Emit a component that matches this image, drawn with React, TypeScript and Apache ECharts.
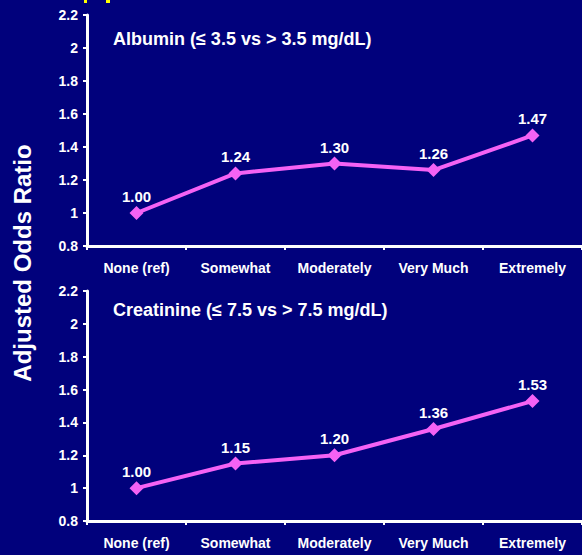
import React, { useEffect, useRef } from "react";
import * as echarts from "echarts";

const categories = ["None (ref)", "Somewhat", "Moderately", "Very Much", "Extremely"];
const albuminValues = [1.0, 1.24, 1.3, 1.26, 1.47];
const creatinineValues = [1.0, 1.15, 1.2, 1.36, 1.53];
const panelTitles = ["Albumin (≤ 3.5 vs > 3.5 mg/dL)", "Creatinine (≤ 7.5 vs > 7.5 mg/dL)"];
const yAxisTitle = "Adjusted Odds Ratio";
const yMin = 0.8;
const yMax = 2.2;
const yStep = 0.2;

const BG = "#01017c";
const LINE = "#f462f4";
const WHITE = "#ffffff";
const FONT = "Arial, 'Liberation Sans', sans-serif";

export default function App() {
  const ref = useRef<HTMLDivElement>(null);
  useEffect(() => {
    if (!ref.current) return;
    const chart = echarts.init(ref.current, undefined, { renderer: "svg" });
    const grids = [
      { left: 87, top: 15, width: 500, height: 231 },
      { left: 87, top: 291, width: 500, height: 230 },
    ];
    const mkX = (i: number) => ({
      type: "category",
      gridIndex: i,
      data: categories,
      boundaryGap: true,
      axisLine: { lineStyle: { color: WHITE, width: 3 } },
      axisTick: { show: true, length: 4, lineStyle: { color: WHITE, width: 2 } },
      axisLabel: { color: WHITE, fontFamily: FONT, fontWeight: "bold", fontSize: 14, margin: 15 },
    });
    const mkY = (i: number) => ({
      type: "value",
      gridIndex: i,
      min: yMin,
      max: yMax,
      interval: yStep,
      splitLine: { show: false },
      axisLine: { show: true, lineStyle: { color: WHITE, width: 3 } },
      axisTick: { show: true, length: 4, lineStyle: { color: WHITE, width: 2 } },
      axisLabel: {
        color: WHITE,
        fontFamily: FONT,
        fontWeight: "bold",
        fontSize: 14,
        margin: 9,
        formatter: (v: number) => String(+v.toFixed(1)),
      },
    });
    const mkSeries = (i: number, data: number[]) => ({
      type: "line",
      xAxisIndex: i,
      yAxisIndex: i,
      data,
      symbol: "diamond",
      symbolSize: 14,
      itemStyle: { color: LINE },
      lineStyle: { color: LINE, width: 4 },
      label: {
        show: true,
        position: "top",
        distance: 2,
        color: WHITE,
        fontFamily: FONT,
        fontWeight: "bold",
        fontSize: 15,
        formatter: (p: any) => Number(p.value).toFixed(2),
      },
    });
    chart.setOption({
      animation: false,
      backgroundColor: BG,
      grid: grids,
      xAxis: [mkX(0), mkX(1)],
      yAxis: [mkY(0), mkY(1)],
      series: [mkSeries(0, albuminValues), mkSeries(1, creatinineValues)],
      graphic: [
        { type: "rect", shape: { x: 84, y: 0, width: 3, height: 3 }, style: { fill: "#ffff00" } },
        { type: "rect", shape: { x: 106, y: 0, width: 4, height: 3 }, style: { fill: "#ffff00" } },
        {
          type: "text",
          x: 113,
          y: 39,
          style: { text: panelTitles[0], fill: WHITE, font: `bold 18px ${FONT}`, textVerticalAlign: "middle" },
        },
        {
          type: "text",
          x: 113,
          y: 310,
          style: { text: panelTitles[1], fill: WHITE, font: `bold 18px ${FONT}`, textVerticalAlign: "middle" },
        },
        {
          type: "text",
          x: 22,
          y: 263,
          rotation: Math.PI / 2,
          style: {
            text: yAxisTitle,
            fill: WHITE,
            font: `bold 24px ${FONT}`,
            textAlign: "center",
            textVerticalAlign: "middle",
          },
        },
      ],
    });
    return () => chart.dispose();
  }, []);
  return (
    <div
      ref={ref}
      style={{ position: "fixed", left: 0, top: 0, width: 582, height: 555 }}
    />
  );
}
